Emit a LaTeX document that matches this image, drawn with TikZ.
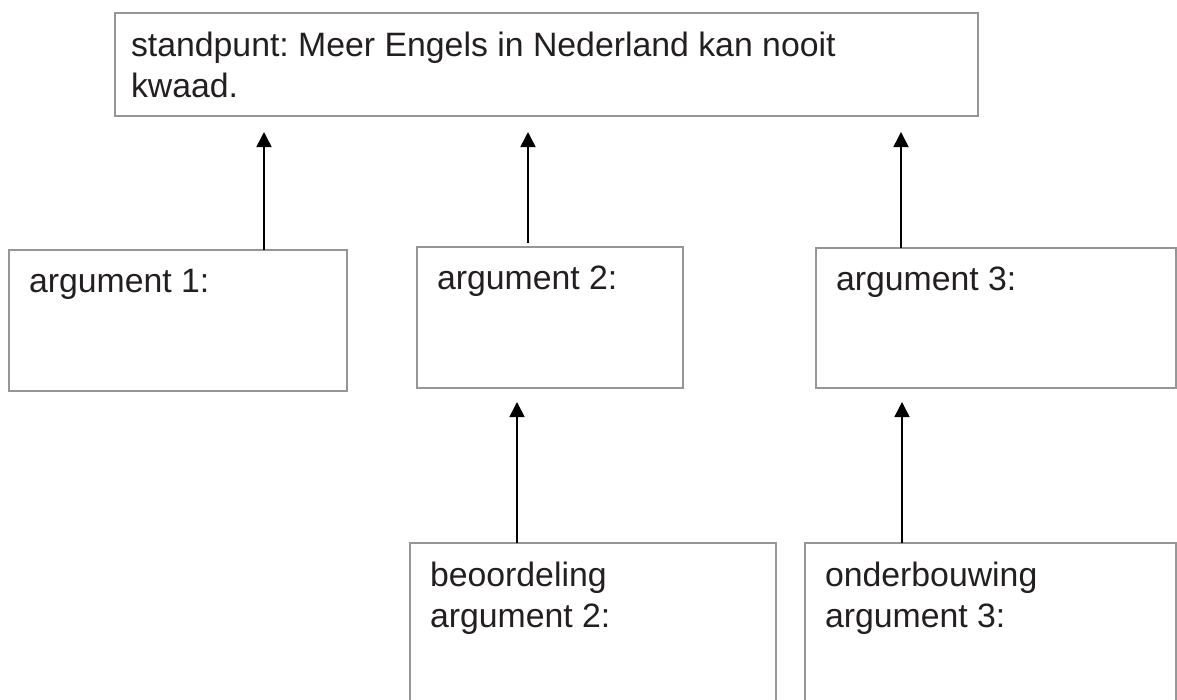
\documentclass[tikz,border=0pt]{standalone}
\usepackage{fontspec}
\setmainfont{Liberation Sans}
\usepackage{tikz}
\usetikzlibrary{arrows.meta}
\frenchspacing
\definecolor{randgrijs}{RGB}{150,150,150}
\definecolor{tekstkleur}{RGB}{35,31,32}
\newcommand{\vaklijn}{1.8pt}
\tikzstyle{vak}=[draw=randgrijs, line width=\vaklijn, inner sep=0, outer sep=0, anchor=north west]
\tikzstyle{vaktekst}=[anchor=north west, inner sep=0, outer sep=0, align=left, text=tekstkleur,
                      % Default padding inside the box.
                      xshift=20pt, yshift=-19pt]
\tikzstyle{pijl}=[-{Triangle[length=15pt, width=15pt]}, line width=1.6pt]
\tikzstyle{schema}=[x=1pt, y=-1pt, font=\fontsize{33.8}{41}\selectfont]

\begin{document}
\begin{tikzpicture}[schema]
    \useasboundingbox (0,0) rectangle (1177,699);
    % standpunt
    \node[vak, minimum width=863pt, minimum height=103pt,
          label={[vaktekst, xshift=-4pt]north west:standpunt: Meer Engels in Nederland kan nooit\\kwaad.}] (standpunt) at (115,13) {};
    % argumenten
    \node[vak, minimum width=338pt, minimum height=141pt, label={[vaktekst]north west:argument 1:}] (arg1) at (9,250) {};
    \node[vak, minimum width=266pt, minimum height=141pt, label={[vaktekst]north west:argument 2:}] (arg2) at (417,247) {};
    \node[vak, minimum width=360pt, minimum height=140pt, label={[vaktekst]north west:argument 3:}] (arg3) at (816,248) {};
    % onderste rij loopt door tot onder de rand
    \node[vak, minimum width=366pt, minimum height=200pt, label={[vaktekst]north west:beoordeling\\argument 2:}] (beoord2) at (410,543) {};
    \node[vak, minimum width=371pt, minimum height=200pt, label={[vaktekst]north west:onderbouwing\\argument 3:}] (onderb3) at (805,543) {};
    \coordinate (voet1) at ([xshift=86pt]arg1.north);
    \coordinate (voet2) at ([xshift=-22pt]arg2.north);
    \coordinate (voet3) at ([xshift=-95pt]arg3.north);
    \coordinate (voet4) at ([xshift=-76pt]beoord2.north);
    \coordinate (voet5) at ([xshift=-88.5pt]onderb3.north);
    \draw[pijl, shorten >=16pt] (voet1) -- (voet1 |- standpunt.south);
    \draw[pijl, shorten <=4pt, shorten >=16pt] (voet2) -- (voet2 |- standpunt.south);
    \draw[pijl, shorten >=16pt] (voet3) -- (voet3 |- standpunt.south);
    \draw[pijl, shorten >=14pt] (voet4) -- (voet4 |- arg2.south);
    \draw[pijl, shorten >=14pt] (voet5) -- (voet5 |- arg3.south);
\end{tikzpicture}
\end{document}
